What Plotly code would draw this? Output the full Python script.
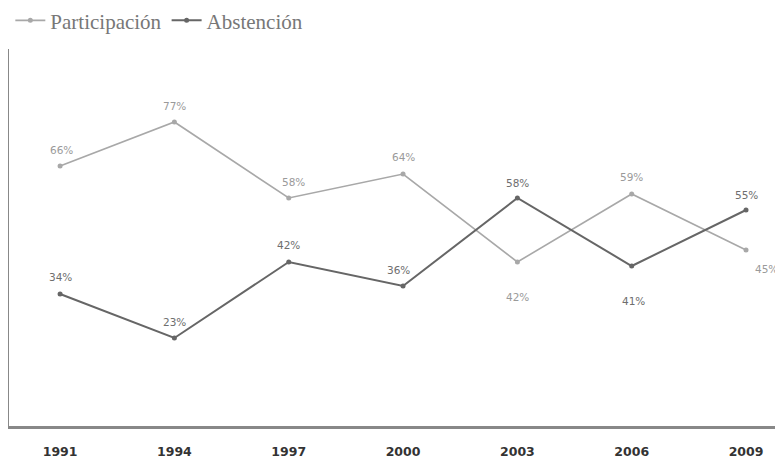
import plotly.graph_objects as go

years = [1991, 1994, 1997, 2000, 2003, 2006, 2009]
participacion = [66, 77, 58, 64, 42, 59, 45]
abstencion = [34, 23, 42, 36, 58, 41, 55]

# label offsets (px) for each point: (dx, dy up)
part_off = [(1, 16), (0, 16), (5, 16), (0, 17), (0, -35), (0, 17), (20, -19)]
abst_off = [(0, 17), (0, 16), (0, 17), (-5, 16), (0, 15), (2, -35), (0, 15)]

c_part = "#a8a8a8"
c_abst = "#666666"

fig = go.Figure()
fig.add_trace(go.Scatter(x=years, y=participacion, name="Participación",
                         mode="lines+markers",
                         line=dict(color=c_part, width=1.6),
                         marker=dict(color=c_part, size=5)))
fig.add_trace(go.Scatter(x=years, y=abstencion, name="Abstención",
                         mode="lines+markers",
                         line=dict(color=c_abst, width=2),
                         marker=dict(color=c_abst, size=5)))

for vals, offs, col in ((participacion, part_off, "#9a9a9a"),
                        (abstencion, abst_off, "#6e6e6e")):
    for x, v, (dx, dy) in zip(years, vals, offs):
        fig.add_annotation(x=x, y=v, text=f"{v}%", showarrow=False,
                           xshift=dx, yshift=dy,
                           font=dict(family="DejaVu Sans", size=10.5, color=col))

fig.update_layout(
    width=775, height=454,
    margin=dict(l=1, r=0, t=41, b=36),
    paper_bgcolor="white", plot_bgcolor="white",
    showlegend=True,
    legend=dict(orientation="h", x=0.003, xref="container",
                y=0.972, yref="container",
                xanchor="left", yanchor="middle",
                font=dict(family="Liberation Serif", size=21, color="#777777"),
                itemwidth=30, bgcolor="rgba(0,0,0,0)"),
    xaxis=dict(range=[1989.66, 2009.97], tickvals=years,
               ticktext=[str(y) for y in years],
               showgrid=False, zeroline=False,
               showline=True, linecolor="#888888", linewidth=3,
               ticks="", ticklabelstandoff=12,
               tickfont=dict(family="DejaVu Sans", size=12.5, color="#333333",
                             weight="bold")),
    yaxis=dict(range=[1, 95.25], showgrid=False, zeroline=False,
               showline=True, linecolor="#888888", linewidth=3,
               showticklabels=False, ticks=""),
)

fig.write_html("out.html")
